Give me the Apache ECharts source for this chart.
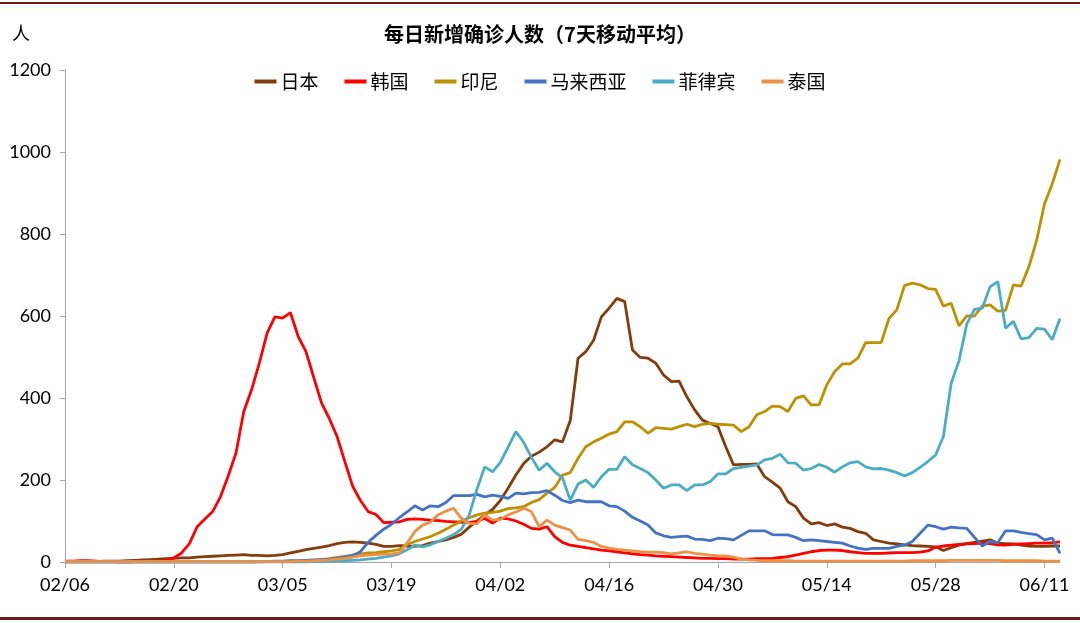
<!DOCTYPE html>
<html>
<head>
<meta charset="utf-8">
<script src="https://cdn.jsdelivr.net/npm/echarts@6/dist/echarts.min.js"></script>
<style>
html,body{margin:0;padding:0;background:#fff;}
#chart{width:1080px;height:623px;}
</style>
</head>
<body>
<div id="chart"></div>
<script>
// Dates: daily from 2020-02-06 to 2020-06-13
const startDate = Date.UTC(2020, 1, 6);
const dayCount = 129;
const categories = [];
for (let i = 0; i < dayCount; i++) {
  const d = new Date(startDate + i * 86400000);
  const mm = String(d.getUTCMonth() + 1).padStart(2, '0');
  const dd = String(d.getUTCDate()).padStart(2, '0');
  categories.push(mm + '/' + dd);
}

const seriesNames = ['日本', '韩国', '印尼', '马来西亚', '菲律宾', '泰国'];
const yTicks = [0, 200, 400, 600, 800, 1000, 1200];

const japan = [
  1,1,1,1,1,2,2,2,3,
  4,5,6,7,8,9,10,10,12,13,14,15,16,17,18,
  16,16,15,16,18,22,26,30,33,36,
  40,45,48,49,48,46,43,38,38,40,
  39,38,40,46,50,54,60,68,
  85,100,115,128,150,180,212,240,258,268,281,298,
  293,345,497,513,541,598,619,643,635,517,
  499,497,485,456,440,441,403,371,346,338,
  330,281,237,238,238,239,208,195,180,147,
  135,107,93,96,89,93,85,82,74,70,
  54,50,46,44,42,40,39,38,37,28,
  35,41,45,48,51,54,46,45,44,41,
  39,38,38,39,39
];

const korea = [
  2,2,3,3,2,1,1,0,0,1,1,1,2,4,
  10,22,45,86,105,123,159,210,266,367,
  420,485,558,598,595,608,550,513,450,388,
  350,306,245,185,150,123,116,96,97,98,
  104,105,104,102,101,99,98,97,96,100,
  106,95,107,105,100,92,82,80,86,62,
  48,41,38,35,32,29,27,25,22,20,
  18,17,15,14,13,12,11,10,9,9,
  8,8,7,7,7,8,8,9,11,13,
  17,21,25,28,29,29,28,25,23,21,
  21,21,22,23,23,23,24,27,36,39,
  41,43,44,45,46,45,42,41,43,44,
  45,46,46,47,49
];

const indonesia = [
  0,0,0,0,0,0,0,0,0,0,0,0,0,0,0,0,0,0,0,0,0,0,0,0,0,
  0,1,1,1,1,2,3,4,6,8,
  11,14,17,20,22,23,25,27,30,42,
  50,56,62,70,80,90,100,108,115,119,
  121,124,130,132,135,145,152,168,182,212,
  218,253,281,293,302,312,318,342,342,330,
  314,328,326,324,330,336,330,336,338,336,
  335,334,318,330,359,367,380,379,367,399,
  405,383,383,432,464,483,483,497,535,535,
  535,594,615,674,680,676,667,665,624,631,
  576,600,600,624,627,612,614,676,673,720,
  785,873,922,982
];

const malaysia = [
  0,0,0,0,0,0,0,0,0,0,0,0,0,0,0,0,0,0,0,0,0,0,0,0,0,
  1,1,2,2,3,3,4,5,6,7,9,12,16,25,
  48,65,80,92,108,122,137,127,137,135,
  145,162,162,162,165,159,163,160,155,168,
  166,169,170,174,163,150,145,151,147,147,
  147,137,135,124,109,100,90,71,64,60,
  62,63,56,55,52,58,57,54,65,76,
  76,76,67,66,66,60,52,54,52,50,
  48,46,39,34,31,33,33,33,38,41,
  50,70,90,86,80,85,83,82,60,39,
  50,47,76,76,72,69,67,54,58,21
];

const philippines = [
  0,0,0,0,0,0,0,0,0,0,0,0,0,0,0,0,0,0,0,0,0,0,0,0,0,0,0,0,0,0,0,0,
  1,1,2,2,3,4,5,7,9,12,
  15,20,30,41,37,42,50,58,67,80,
  115,178,232,220,243,280,318,292,255,224,
  241,220,205,151,190,200,182,208,226,226,
  257,237,228,218,200,180,188,188,174,188,
  188,196,215,215,228,231,234,237,249,253,
  263,242,241,224,228,238,231,219,232,242,
  245,232,227,228,224,218,210,218,231,245,
  261,306,436,490,580,616,619,671,684,570,
  587,544,547,570,568,542,594
];

const thailand = [
  1,1,1,1,1,1,1,1,1,1,1,1,1,1,1,1,1,1,1,1,1,1,1,1,1,1,1,1,1,1,
  2,2,3,4,5,7,9,12,15,17,
  18,19,20,22,46,74,90,97,115,124,
  131,106,94,93,115,102,104,115,122,131,
  123,86,102,90,84,78,55,52,48,38,
  34,31,29,27,25,24,24,23,20,22,
  25,21,19,17,15,15,12,7,5,4,
  3,3,3,3,2,2,2,2,2,2,
  2,2,2,2,2,2,2,2,2,3,
  3,3,3,3,4,4,4,4,4,4,
  4,3,3,3,3,3,2,2,2
];

const seriesData = [japan, korea, indonesia, malaysia, philippines, thailand];
const colors = ['#843C0C', '#FF0000', '#BF9000', '#4472C4', '#4BACC6', '#EE9148'];

const axisGray = '#A6A6A6';
const numFont = 'Lato, "Open Sans", sans-serif';
const cjkFont = '"Noto Sans CJK SC", sans-serif';

const chart = echarts.init(document.getElementById('chart'), null, {renderer: 'canvas'});
chart.setOption({
  animation: false,
  backgroundColor: '#fff',
  color: colors,
  title: [
    {
      text: '每日新增确诊人数（7天移动平均）',
      left: 'center',
      top: 19,
      textStyle: {fontSize: 20, fontWeight: 'bold', color: '#000', fontFamily: cjkFont}
    },
    {
      text: '人',
      left: 7,
      top: 19,
      textStyle: {fontSize: 18, fontWeight: 'normal', color: '#000', fontFamily: cjkFont}
    }
  ],
  legend: {
    top: 67,
    left: 'center',
    icon: 'rect',
    itemWidth: 22,
    itemHeight: 4,
    itemGap: 26,
    textStyle: {fontSize: 19, color: '#000', fontFamily: cjkFont, padding: [0, 0, 0, -1]},
    data: seriesNames
  },
  grid: {left: 65, right: 20, top: 70, bottom: 61, containLabel: false},
  xAxis: {
    type: 'category',
    boundaryGap: false,
    data: categories,
    axisLine: {show: true, lineStyle: {color: axisGray, width: 1}},
    axisTick: {show: true, interval: 13, length: 6, lineStyle: {color: axisGray}},
    axisLabel: {interval: 13, fontSize: 18, color: '#000', margin: 14, fontFamily: numFont},
    splitLine: {show: false}
  },
  yAxis: {
    type: 'value',
    min: yTicks[0],
    max: yTicks[yTicks.length - 1],
    interval: 200,
    axisLine: {show: true, lineStyle: {color: axisGray, width: 1}},
    axisTick: {show: true, length: 5, lineStyle: {color: axisGray}},
    axisLabel: {fontSize: 18, color: '#000', margin: 14, fontFamily: numFont,
      formatter: function (v) { return String(v); }},
    splitLine: {show: false}
  },
  graphic: [
    {type: 'rect', left: 0, top: 2, shape: {width: 1080, height: 2}, style: {fill: '#701616'}, silent: true},
    {type: 'rect', left: 0, top: 617, shape: {width: 1080, height: 3}, style: {fill: '#701616'}, silent: true}
  ],
  series: seriesNames.map((name, k) => ({
    name: name,
    type: 'line',
    data: seriesData[k],
    symbol: 'none',
    showSymbol: false,
    smooth: false,
    lineStyle: {width: 2.8, color: colors[k]},
    itemStyle: {color: colors[k]},
    emphasis: {disabled: true}
  }))
});
</script>
</body>
</html>
